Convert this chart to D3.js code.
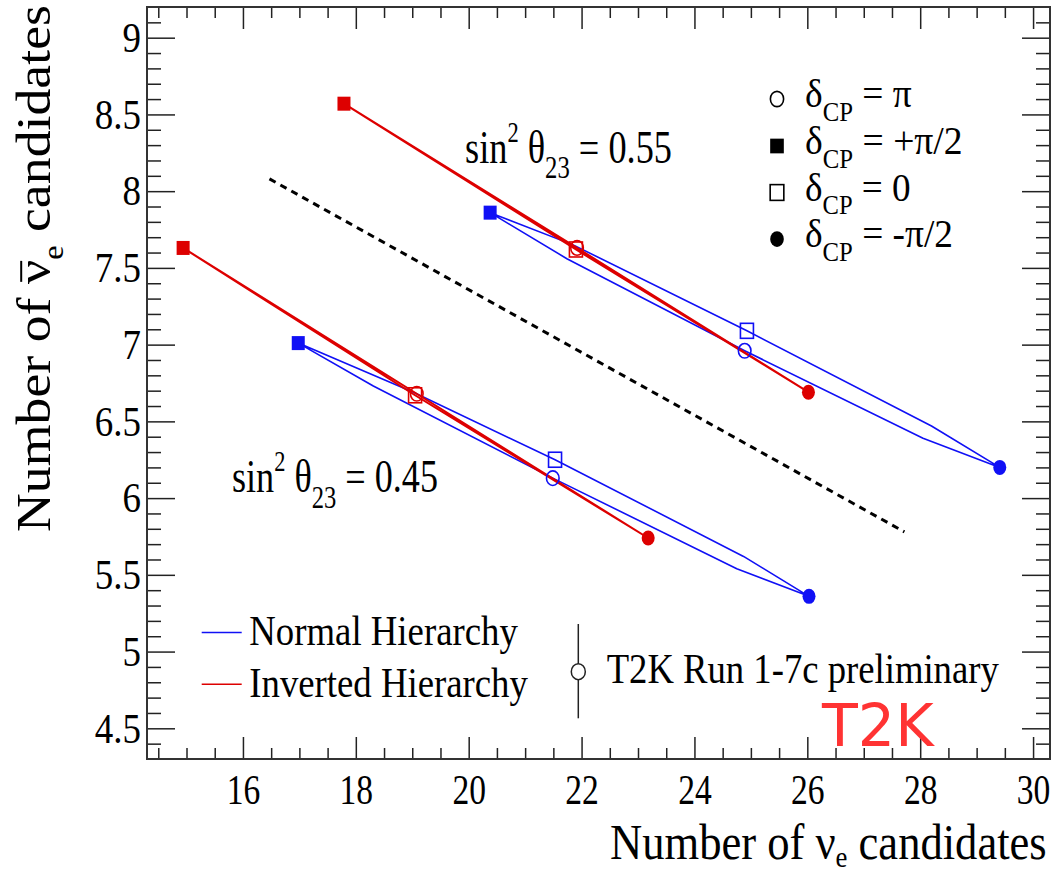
<!DOCTYPE html>
<html>
<head>
<meta charset="utf-8">
<script src="https://cdn.jsdelivr.net/npm/d3@7"></script>
<style>
  html, body { margin: 0; padding: 0; background: #fff; }
  svg { display: block; }
  text { font-family: "Liberation Serif", "Times New Roman", serif; fill: #000; white-space: pre; }
</style>
</head>
<body>
<svg id="chart" width="1064" height="875"></svg>
<script>
// ---- Expected nu_e / anti-nu_e candidate counts while delta_CP is varied ----
// Normal hierarchy: closed contour sampled in delta_CP
const nhDelta = ["+π/2", "π/4", "0", "-π/4", "-π/2", "-3π/4", "π", "3π/4"];
const nh055X = [20.38, 21.85, 24.93, 28.20, 29.41, 28.05, 24.89, 21.74];
const nh055Y = [7.86, 7.65, 7.09, 6.47, 6.20, 6.39, 6.96, 7.56];
const nh045X = [16.98, 19.02, 21.53, 24.87, 26.03, 24.75, 21.49, 18.31];
const nh045Y = [7.01, 6.69, 6.25, 5.62, 5.36, 5.54, 6.13, 6.73];

// Inverted hierarchy: contour at the four CP-phase points
const ihDelta = ["+π/2", "0", "-π/2", "π"];
const ih055X = [17.79, 21.90, 26.02, 21.92];
const ih055Y = [8.57, 7.62, 6.69, 7.63];
const ih045X = [14.94, 19.05, 23.18, 19.08];
const ih045Y = [7.63, 6.67, 5.74, 6.68];

// Separator between the two sin^2(theta23) families
const dashX = [16.47, 27.72];
const dashY = [8.08, 5.78];

// Axis ticks
const xMajorTicks = [16, 18, 20, 22, 24, 26, 28, 30];
const yMajorTicks = [4.5, 5, 5.5, 6, 6.5, 7, 7.5, 8, 8.5, 9];

// Legend entries
const cpLegend = [
  { delta: "π",    symbol: "oci" },
  { delta: "+π/2", symbol: "fsq" },
  { delta: "0",    symbol: "osq" },
  { delta: "-π/2", symbol: "fci" }
];
const hierLegend = [
  { name: "Normal Hierarchy",   color: "#1010f5" },
  { name: "Inverted Hierarchy", color: "#dd0000" }
];

// ---- Drawing ----
const BLUE = "#1010f5", RED = "#dd0000";
const svg = d3.select("#chart");
const x = d3.scaleLinear().domain([14.3, 30.3]).range([147, 1050]);
const y = d3.scaleLinear().domain([4.3, 9.2]).range([759, 7]);

const xMinor = d3.range(29, 61).map(i => i / 2).filter(v => !xMajorTicks.includes(v));
const yMinor = d3.range(44, 92).map(i => +(i / 10).toFixed(1)).filter(v => !yMajorTicks.includes(v));

function styleAxis(g) {
  g.select(".domain").remove();
  g.selectAll(".tick line").attr("stroke", "#222").attr("stroke-width", 1.5);
}

// bottom
svg.append("g").attr("transform", "translate(0,759)")
  .call(d3.axisBottom(x).tickValues(xMajorTicks).tickSizeInner(-22).tickSizeOuter(0).tickPadding(14).tickFormat(d3.format("d")))
  .call(styleAxis)
  .call(g => g.selectAll("text").style("font-size", "43px").style("fill", "#000")
    .attr("font-family", null).attr("transform", "scale(0.78,1)"));
svg.append("g").attr("transform", "translate(0,759)")
  .call(d3.axisBottom(x).tickValues(xMinor).tickSizeInner(-11).tickSizeOuter(0).tickFormat(""))
  .call(styleAxis);
// top
svg.append("g").attr("transform", "translate(0,7)")
  .call(d3.axisTop(x).tickValues(xMajorTicks).tickSizeInner(-22).tickSizeOuter(0).tickFormat(""))
  .call(styleAxis);
svg.append("g").attr("transform", "translate(0,7)")
  .call(d3.axisTop(x).tickValues(xMinor).tickSizeInner(-11).tickSizeOuter(0).tickFormat(""))
  .call(styleAxis);
// left
svg.append("g").attr("transform", "translate(147,0)")
  .call(d3.axisLeft(y).tickValues(yMajorTicks).tickSizeInner(-28).tickSizeOuter(0).tickPadding(7).tickFormat(d => String(d)))
  .call(styleAxis)
  .call(g => g.selectAll("text").style("font-size", "43px").style("fill", "#000")
    .attr("font-family", null).attr("transform", "scale(0.86,1)"));
svg.append("g").attr("transform", "translate(147,0)")
  .call(d3.axisLeft(y).tickValues(yMinor).tickSizeInner(-14).tickSizeOuter(0).tickFormat(""))
  .call(styleAxis);
// right
svg.append("g").attr("transform", "translate(1050,0)")
  .call(d3.axisRight(y).tickValues(yMajorTicks).tickSizeInner(-28).tickSizeOuter(0).tickFormat(""))
  .call(styleAxis);
svg.append("g").attr("transform", "translate(1050,0)")
  .call(d3.axisRight(y).tickValues(yMinor).tickSizeInner(-14).tickSizeOuter(0).tickFormat(""))
  .call(styleAxis);

// frame
svg.append("rect").attr("x", 147).attr("y", 7).attr("width", 903).attr("height", 752)
  .attr("fill", "none").attr("stroke", "#333").attr("stroke-width", 2);

// dashed separator
svg.append("path")
  .attr("d", d3.line().x(d => x(d[0])).y(d => y(d[1]))(d3.zip(dashX, dashY)))
  .attr("fill", "none").attr("stroke", "#000").attr("stroke-width", 3)
  .attr("stroke-dasharray", "7,5.5");

// contours
const loop = d3.line().x(d => x(d[0])).y(d => y(d[1])).curve(d3.curveLinearClosed);
function contour(xs, ys, color, width) {
  svg.append("path").attr("d", loop(d3.zip(xs, ys)))
    .attr("fill", "none").attr("stroke", color).attr("stroke-width", width)
    .attr("stroke-linejoin", "round");
}
contour(nh055X, nh055Y, BLUE, 1.6);
contour(nh045X, nh045Y, BLUE, 1.6);
contour(ih055X, ih055Y, RED, 2);
contour(ih045X, ih045Y, RED, 2);

// markers
const symbolFor = { "+π/2": "fsq", "0": "osq", "-π/2": "fci", "π": "oci" };
function marker(g, type, cx, cy, color, s) {
  s = s || 1;
  if (type === "fsq") g.append("rect").attr("x", cx - 6.5 * s).attr("y", cy - 7 * s)
    .attr("width", 13 * s).attr("height", 14 * s).attr("fill", color);
  if (type === "osq") g.append("rect").attr("x", cx - 6.5 * s).attr("y", cy - 7.5 * s)
    .attr("width", 13 * s).attr("height", 15 * s).attr("fill", "none").attr("stroke", color).attr("stroke-width", 1.6);
  if (type === "fci") g.append("ellipse").attr("cx", cx).attr("cy", cy)
    .attr("rx", 6.5 * s).attr("ry", 7.5 * s).attr("fill", color);
  if (type === "oci") g.append("ellipse").attr("cx", cx).attr("cy", cy)
    .attr("rx", 6.3 * s).attr("ry", 7.3 * s).attr("fill", "none").attr("stroke", color).attr("stroke-width", 1.6);
}
const mg = svg.append("g");
function markers(deltas, xs, ys, color) {
  deltas.forEach((dl, i) => {
    const t = symbolFor[dl];
    if (t) marker(mg, t, x(xs[i]), y(ys[i]), color);
  });
}
markers(nhDelta, nh055X, nh055Y, BLUE);
markers(nhDelta, nh045X, nh045Y, BLUE);
markers(ihDelta, ih055X, ih055Y, RED);
markers(ihDelta, ih045X, ih045Y, RED);

// ---- text helpers ----
function rich(parent, segs, size) {
  const t = parent.append("text").attr("x", 0).attr("y", 0).style("font-size", size + "px");
  let cur = 0;
  segs.forEach(s => {
    const shift = s.sub ? size * (s.shift || 0.3) : s.sup ? -size * (s.shift || 0.42) : 0;
    const fs = (s.sub || s.sup) ? size * (s.scale || 0.62) : size;
    t.append("tspan").attr("dy", shift - cur).style("font-size", fs + "px").text(s.t);
    cur = shift;
  });
  return t;
}
function fitH(segs, size, x0, x1, base) {
  const g = svg.append("g");
  const t = rich(g, segs, size);
  const w = t.node().getBBox().width;
  g.attr("transform", `translate(${x0},${base}) scale(${(x1 - x0) / w},1)`);
  return { g, t };
}

// annotations
fitH([{ t: "sin" }, { t: "2", sup: true, scale: 0.62, shift: 0.45 }, { t: " θ" },
      { t: "23", sub: true, scale: 0.68, shift: 0.34 }, { t: " = 0.55" }], 46, 465, 672, 162.5);
fitH([{ t: "sin" }, { t: "2", sup: true, scale: 0.62, shift: 0.45 }, { t: " θ" },
      { t: "23", sub: true, scale: 0.68, shift: 0.34 }, { t: " = 0.45" }], 46, 232, 438, 492);

// delta_CP legend
const cpRows = [107, 154, 200.5, 247];
const cpEnds = [911.7, 962.7, 910.7, 953];
cpLegend.forEach((e, i) => {
  marker(svg, e.symbol, 777, cpRows[i] - 8, "#000", 1.05);
  fitH([{ t: "δ" }, { t: "CP", sub: true, scale: 0.66, shift: 0.34 }, { t: " = " + e.delta }],
       40, 805, cpEnds[i], cpRows[i]);
});

// hierarchy legend
const hierRows = [645, 696.7];
const hierEnds = [518.3, 528.3];
hierLegend.forEach((e, i) => {
  svg.append("line").attr("x1", 201.7).attr("x2", 241.7)
    .attr("y1", hierRows[i] - 12.5).attr("y2", hierRows[i] - 12.5)
    .attr("stroke", e.color).attr("stroke-width", 1.6);
  fitH([{ t: e.name }], 43, 249.3, hierEnds[i], hierRows[i]);
});

// data legend entry
svg.append("line").attr("x1", 578.3).attr("x2", 578.3).attr("y1", 624).attr("y2", 718.3)
  .attr("stroke", "#222").attr("stroke-width", 1.5);
svg.append("ellipse").attr("cx", 578.3).attr("cy", 671.7).attr("rx", 7).attr("ry", 8)
  .attr("fill", "#fff").attr("stroke", "#222").attr("stroke-width", 1.5);
fitH([{ t: "T2K Run 1-7c preliminary" }], 43, 606.7, 999.3, 683.3);

// experiment tag
const tag = svg.append("text").text("T2K")
  .style("font-family", '"DejaVu Sans", sans-serif').style("font-size", "59px")
  .style("fill", "#ff3333");
{
  const w = tag.node().getBBox().width;
  tag.attr("transform", `translate(822,746) scale(${114 / w},1)`);
}

// axis titles
fitH([{ t: "Number of ν" }, { t: "e", sub: true, scale: 0.6, shift: 0.16 }, { t: " candidates" }],
     50, 610, 1046.7, 859);

{
  const g = svg.append("g");
  const t = rich(g, [{ t: "Number of ν" }, { t: "e", sub: true, scale: 0.6, shift: 0.28 }, { t: " candidates" }], 48);
  const node = t.node();
  const w = node.getBBox().width;
  const nu = "Number of ".length;
  const sx = node.getStartPositionOfChar(nu).x;
  const ex = node.getEndPositionOfChar(nu).x;
  g.append("line").attr("x1", sx + 2).attr("x2", ex - 1)
    .attr("y1", -48 * 0.6).attr("y2", -48 * 0.6)
    .attr("stroke", "#000").attr("stroke-width", 2);
  g.attr("transform", `translate(50,532) rotate(-90) scale(${527 / w},1)`);
}
</script>
</body>
</html>
